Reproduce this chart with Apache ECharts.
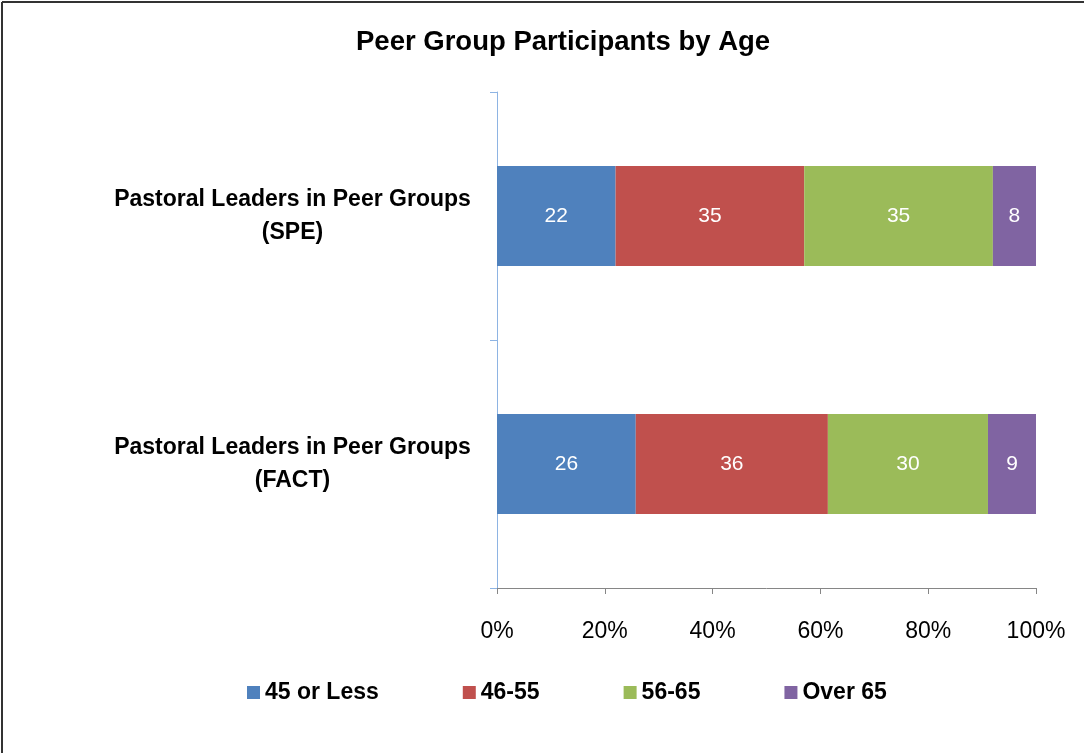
<!DOCTYPE html>
<html>
<head>
<meta charset="utf-8">
<script src="https://cdn.jsdelivr.net/npm/echarts@6/dist/echarts.min.js"></script>
<style>
  html, body { margin: 0; padding: 0; background: #fff; }
  #main { width: 1084px; height: 753px; }
</style>
</head>
<body>
<div id="main"></div>
<script>
// data
var categories = ['Pastoral Leaders in Peer Groups\n(SPE)', 'Pastoral Leaders in Peer Groups\n(FACT)'];
var seriesNames = ['45 or Less', '46-55', '56-65', 'Over 65'];
var age45orLess = [22, 26];
var age46to55 = [35, 36];
var age56to65 = [35, 30];
var over65 = [8, 9];
var xTicks = ['0%', '20%', '40%', '60%', '80%', '100%'];

var colors = ['#4F81BD', '#C0504D', '#9BBB59', '#8064A2'];
var raw = [age45orLess, age46to55, age56to65, over65];

// 100% stacked: share of each row total
var totals = categories.map(function (c, i) {
    return raw.reduce(function (s, arr) { return s + arr[i]; }, 0);
});

var font = '"Liberation Sans", Arial, sans-serif';

var myChart = echarts.init(document.getElementById('main'));

var option = {
    animation: false,
    backgroundColor: '#fff',
    title: {
        text: 'Peer Group Participants by Age',
        left: 351,
        top: 23,
        textStyle: { fontFamily: font, fontSize: 27.5, fontWeight: 'bold', color: '#000' }
    },
    graphic: [
        { type: 'line', shape: { x1: 2, y1: 2, x2: 2, y2: 753 }, style: { stroke: '#333', lineWidth: 2 } },
        { type: 'line', shape: { x1: 2, y1: 2, x2: 1084, y2: 2 }, style: { stroke: '#333', lineWidth: 2 } }
    ],
    legend: {
        data: seriesNames,
        top: 676,
        left: 242,
        icon: 'rect',
        itemWidth: 13,
        itemHeight: 13,
        itemGap: 84,
        textStyle: { fontFamily: font, fontSize: 23, fontWeight: 'bold', color: '#000' }
    },
    grid: { left: 497, right: 48, top: 92, bottom: 165 },
    xAxis: {
        type: 'value',
        min: 0,
        max: 100,
        interval: 20,
        axisLine: { show: true, lineStyle: { color: '#868686', width: 1 } },
        axisTick: { show: true, length: 6, lineStyle: { color: '#868686' } },
        splitLine: { show: false },
        axisLabel: {
            margin: 32,
            fontFamily: font,
            fontSize: 23,
            color: '#000',
            formatter: function (v) { return xTicks[v / 20]; }
        }
    },
    yAxis: {
        type: 'category',
        data: categories,
        inverse: true,
        axisLine: { show: true, lineStyle: { color: '#8EB4E3', width: 1 } },
        axisTick: { show: true, length: 7, lineStyle: { color: '#8EB4E3' } },
        axisLabel: {
            margin: 26,
            align: 'center',
            padding: [10, 0, 0, -357],
            lineHeight: 33,
            fontFamily: font,
            fontSize: 23,
            fontWeight: 'bold',
            color: '#000'
        }
    },
    series: seriesNames.map(function (name, k) {
        return {
            name: name,
            type: 'bar',
            stack: 'total',
            barWidth: 100,
            itemStyle: { color: colors[k] },
            label: {
                show: true,
                position: 'inside',
                color: '#fff',
                fontFamily: font,
                fontSize: 21,
                formatter: function (p) { return raw[k][p.dataIndex]; }
            },
            data: raw[k].map(function (v, i) { return v / totals[i] * 100; })
        };
    })
};

myChart.setOption(option);
</script>
</body>
</html>
